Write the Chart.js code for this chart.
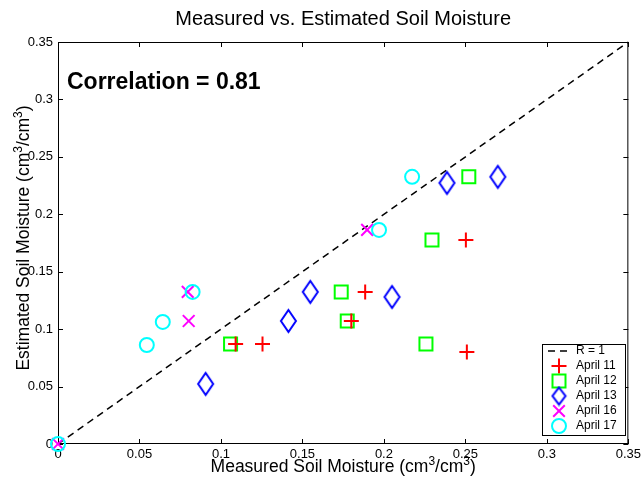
<!DOCTYPE html>
<html><head><meta charset="utf-8">
<script src="https://cdn.jsdelivr.net/npm/chart.js@4/dist/chart.umd.min.js"></script>
<style>html,body{margin:0;padding:0;background:#fff}canvas{display:block}</style>
</head><body>
<div style="width:644px;height:483px"><canvas id="c" width="644" height="483"></canvas></div>
<script>
// ---- data ----
const tickValues = [0, 0.05, 0.1, 0.15, 0.2, 0.25, 0.3, 0.35];
const tickLabels = ['0', '0.05', '0.1', '0.15', '0.2', '0.25', '0.3', '0.35'];
const seriesNames = ['April 11', 'April 12', 'April 13', 'April 16', 'April 17'];
const april11X = [0.109, 0.1255, 0.180, 0.1885, 0.2503, 0.2509];
const april11Y = [0.0871, 0.0871, 0.1071, 0.1324, 0.1777, 0.0801];
const april12X = [0.1059, 0.1738, 0.1775, 0.2295, 0.2521, 0.2258];
const april12Y = [0.0871, 0.1324, 0.1071, 0.1777, 0.2326, 0.0871];
const april13X = [0.0906, 0.1414, 0.1548, 0.2050, 0.2387, 0.2699];
const april13Y = [0.0523, 0.1071, 0.1324, 0.1280, 0.2273, 0.2326];
const april16X = [0, 0.0796, 0.0802, 0.1897];
const april16Y = [0, 0.1324, 0.1071, 0.1864];
const april17X = [0, 0.0545, 0.0643, 0.0826, 0.1970, 0.2173];
const april17Y = [0, 0.0862, 0.1063, 0.1324, 0.1864, 0.2326];
const refLineX = [0, 0.35];
const refLineY = [0, 0.35];
const correlationText = 'Correlation = 0.81';
const titleText = 'Measured vs. Estimated Soil Moisture';
const xTitleParts = [['Measured Soil Moisture (cm', 0], ['3', 1], ['/cm', 0], ['3', 1], [')', 0]];
const yTitleParts = [['Estimated Soil Moisture (cm', 0], ['3', 1], ['/cm', 0], ['3', 1], [')', 0]];

const FONT = '"Liberation Sans", Arial, Helvetica, sans-serif';
const pts = (xs, ys) => xs.map((x, i) => ({x, y: ys[i]}));

// tall diamond marker
function makeDiamond(w, h, lw, color) {
  const cv = document.createElement('canvas');
  cv.width = w + lw * 2; cv.height = h + lw * 2;
  const c = cv.getContext('2d');
  const cx = cv.width / 2, cy = cv.height / 2;
  c.strokeStyle = color; c.lineWidth = lw; c.lineJoin = 'miter';
  c.beginPath();
  c.moveTo(cx, cy - h / 2); c.lineTo(cx + w / 2, cy); c.lineTo(cx, cy + h / 2); c.lineTo(cx - w / 2, cy); c.closePath();
  c.stroke();
  return cv;
}
const diamond = makeDiamond(15, 22, 2, '#0000ff');

const styles = [
  {style: 'cross', r: 7.5, color: '#ff0000'},
  {style: 'rect', r: 9.2, color: '#00ff00'},
  {style: diamond, r: 8, color: '#0000ff'},
  {style: 'crossRot', r: 8.3, color: '#ff00ff'},
  {style: 'circle', r: 7, color: '#00ffff'}
];
const seriesData = [pts(april11X, april11Y), pts(april12X, april12Y), pts(april13X, april13Y), pts(april16X, april16Y), pts(april17X, april17Y)];
const drawOrder = [3, 4, 2, 1, 0];

const datasets = [{
  type: 'line', label: 'R = 1', data: pts(refLineX, refLineY),
  borderColor: '#000', borderWidth: 1.5, borderDash: [7, 5], pointRadius: 0, fill: false, clip: false, order: 10
}];
seriesNames.forEach((n, i) => {
  datasets.push({
    type: 'scatter', label: n, data: seriesData[i], pointStyle: styles[i].style,
    pointRadius: styles[i].r, borderColor: styles[i].color, backgroundColor: 'rgba(0,0,0,0)',
    pointBorderWidth: 2, borderWidth: 2, clip: false, order: drawOrder[i]
  });
});

// draw text with superscripts, centered at (0,0) of current transform
function richText(ctx, parts, size) {
  const sup = Math.round(size * 0.7);
  let total = 0;
  parts.forEach(([t, s]) => { ctx.font = (s ? sup : size) + 'px ' + FONT; total += ctx.measureText(t).width; });
  let x = -total / 2;
  ctx.textAlign = 'left'; ctx.textBaseline = 'alphabetic';
  parts.forEach(([t, s]) => {
    ctx.font = (s ? sup : size) + 'px ' + FONT;
    ctx.fillText(t, x, s ? -size * 0.42 + size * 0.36 : size * 0.36);
    x += ctx.measureText(t).width;
  });
}

const frame = {
  id: 'frame',
  beforeDatasetsDraw(chart) {
    const {ctx, chartArea: a, scales} = chart;
    ctx.save();
    ctx.strokeStyle = '#000'; ctx.lineWidth = 1;
    ctx.strokeRect(a.left + 0.5, a.top + 0.5, a.right - a.left - 1, a.bottom - a.top - 1);
    ctx.beginPath();
    tickValues.forEach(v => {
      const x = Math.round(scales.x.getPixelForValue(v)) + 0.5;
      ctx.moveTo(x, a.bottom); ctx.lineTo(x, a.bottom - 5);
      ctx.moveTo(x, a.top); ctx.lineTo(x, a.top + 5);
      const y = Math.round(scales.y.getPixelForValue(v)) + 0.5;
      ctx.moveTo(a.left, y); ctx.lineTo(a.left + 5, y);
      ctx.moveTo(a.right, y); ctx.lineTo(a.right - 5, y);
    });
    ctx.stroke();
    ctx.restore();
  },
  afterDraw(chart) {
    const {ctx, chartArea: a} = chart;
    ctx.save();
    ctx.fillStyle = '#000';
    ctx.textAlign = 'center'; ctx.textBaseline = 'middle';
    ctx.font = '20px ' + FONT;
    ctx.fillText(titleText, (a.left + a.right) / 2, 19);
    ctx.save(); ctx.translate((a.left + a.right) / 2, 466); richText(ctx, xTitleParts, 17.5); ctx.restore();
    ctx.save(); ctx.translate(23, 238); ctx.rotate(-Math.PI / 2); richText(ctx, yTitleParts, 17.5); ctx.restore();
    ctx.font = 'bold 23px ' + FONT;
    ctx.textAlign = 'left'; ctx.textBaseline = 'middle';
    ctx.fillText(correlationText, a.left + 9, 83);

    // legend
    const L = 542, T = 344, R = 626, B = 436;
    ctx.fillStyle = '#fff';
    ctx.fillRect(L, T, R - L, B - T);
    ctx.strokeStyle = '#000'; ctx.lineWidth = 1;
    ctx.strokeRect(L + 0.5, T + 0.5, R - L - 1, B - T - 1);
    const rowY = [351, 366, 381, 396, 411, 426];
    const mx = 559;
    ctx.font = '12px ' + FONT;
    ctx.textAlign = 'left'; ctx.textBaseline = 'middle'; ctx.fillStyle = '#000';
    ctx.beginPath(); ctx.setLineDash([7, 5]); ctx.lineWidth = 1.5;
    ctx.moveTo(548, rowY[0]); ctx.lineTo(567, rowY[0]); ctx.stroke(); ctx.setLineDash([]);
    ctx.fillText('R = 1', 576, rowY[0]);
    seriesNames.forEach((n, i) => {
      const y = rowY[i + 1];
      ctx.strokeStyle = styles[i].color; ctx.lineWidth = 2;
      ctx.beginPath();
      if (i === 0) { ctx.moveTo(mx - 7.5, y); ctx.lineTo(mx + 7.5, y); ctx.moveTo(mx, y - 7.5); ctx.lineTo(mx, y + 7.5); ctx.stroke(); }
      else if (i === 1) { ctx.strokeRect(mx - 6.5, y - 6.5, 13, 13); }
      else if (i === 2) { const d = makeDiamond(13, 17, 2, '#0000ff'); ctx.drawImage(d, mx - d.width / 2, y - d.height / 2); }
      else if (i === 3) { ctx.moveTo(mx - 5.8, y - 5.8); ctx.lineTo(mx + 5.8, y + 5.8); ctx.moveTo(mx + 5.8, y - 5.8); ctx.lineTo(mx - 5.8, y + 5.8); ctx.stroke(); }
      else { ctx.arc(mx, y, 7, 0, Math.PI * 2); ctx.stroke(); }
      ctx.fillStyle = '#000';
      ctx.fillText(n, 576, y);
    });
    ctx.restore();
  }
};

new Chart(document.getElementById('c'), {
  data: {datasets},
  options: {
    responsive: false, animation: false, devicePixelRatio: 1, events: [],
    layout: {padding: {top: 42, right: 13, left: 0, bottom: 0}},
    plugins: {legend: {display: false}, tooltip: {enabled: false}, title: {display: false}},
    scales: {
      x: {
        type: 'linear', min: 0, max: 0.35,
        afterBuildTicks: s => { s.ticks = tickValues.map(v => ({value: v})); },
        afterFit: s => { s.height = 39; },
        grid: {display: false, tickLength: 0}, border: {display: false},
        ticks: {padding: 3, color: '#000', font: {family: FONT, size: 13}, maxRotation: 0, autoSkip: false,
          callback: (v, i) => tickLabels[i]}
      },
      y: {
        type: 'linear', min: 0, max: 0.35,
        afterBuildTicks: s => { s.ticks = tickValues.map(v => ({value: v})); },
        afterFit: s => { s.width = 58; },
        grid: {display: false, tickLength: 0}, border: {display: false},
        ticks: {padding: 5, color: '#000', font: {family: FONT, size: 13}, autoSkip: false,
          callback: (v, i) => tickLabels[i]}
      }
    }
  },
  plugins: [frame]
});
</script>
</body></html>
